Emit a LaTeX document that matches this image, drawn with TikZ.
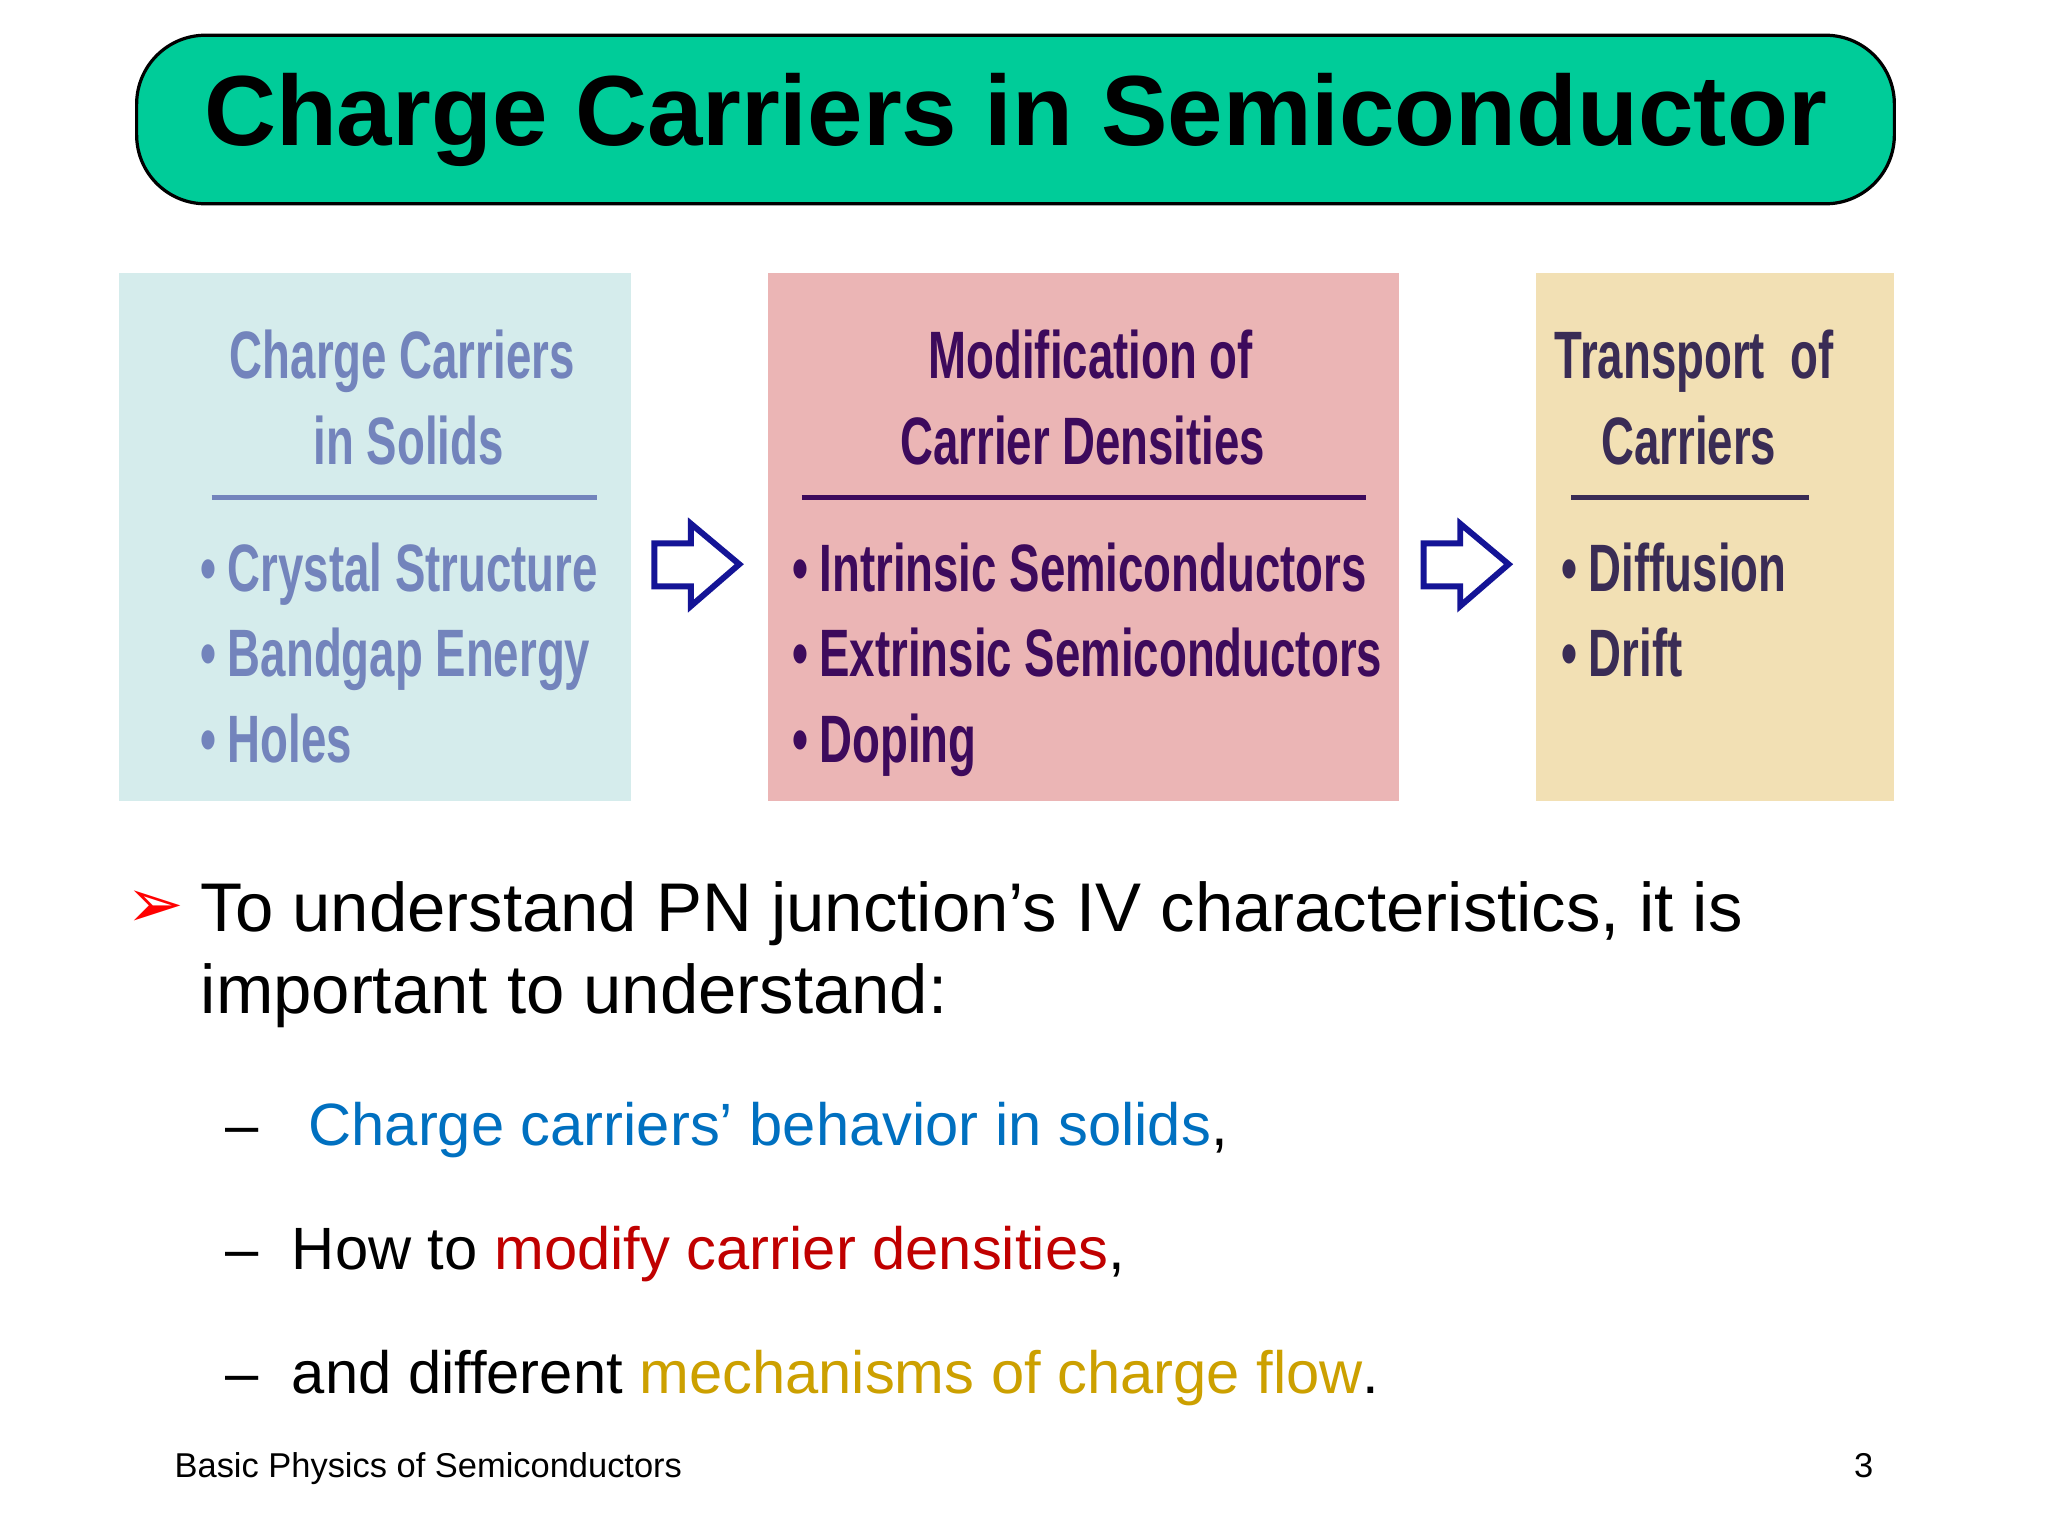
\documentclass[tikz,border=0pt]{standalone}
\usepackage{fontspec}
\setmainfont{Liberation Sans}
\newfontfamily\narrowfont[FakeStretch=0.68]{Liberation Sans Bold}
\newfontfamily\symfont{DejaVu Sans}
\definecolor{titlegreen}{RGB}{0,204,153}
\definecolor{boxa}{RGB}{213,236,236}
\definecolor{boxb}{RGB}{235,181,181}
\definecolor{boxc}{RGB}{242,224,180}
\definecolor{txta}{RGB}{115,132,188}
\definecolor{txtb}{RGB}{61,10,92}
\definecolor{txtc}{RGB}{58,44,85}
\definecolor{arrblue}{RGB}{20,20,150}
\definecolor{myblue}{RGB}{0,112,192}
\definecolor{myred}{RGB}{192,0,0}
\definecolor{mygold}{RGB}{204,160,0}
\tikzset{
  boxtxt/.style={inner sep=0pt,anchor=base,font=\narrowfont\fontsize{14.6}{16}\selectfont},
  bul/.style={inner sep=0pt,anchor=base west,font=\narrowfont\fontsize{14.6}{16}\selectfont},
  body/.style={inner sep=0pt,anchor=base west,font=\fontsize{15}{18}\selectfont},
  sub/.style={inner sep=0pt,anchor=base west,font=\fontsize{13}{16}\selectfont},
  harrow/.style={draw=arrblue,line width=1.3pt,fill=white,line join=miter}
}
\begin{document}
\begin{tikzpicture}[x=0.01cm,y=-0.01cm]
\useasboundingbox (0,0) rectangle (1568,1176);
\fill[white] (0,0) rectangle (1568,1176);
% title
\node[draw=black,line width=0.7pt,fill=titlegreen,rounded corners=15,minimum width=13.45cm,minimum height=1.29cm,inner sep=0pt] (title) at (777.5,91.5) {};
\node[inner sep=0pt,font=\bfseries\fontsize{21.7}{24}\selectfont] (titletext) at (title.center) {Charge Carriers in Semiconductor};
% boxes
\node[fill=boxa,minimum width=3.92cm,minimum height=4.04cm,inner sep=0pt] (b1) at (287,411) {};
\node[fill=boxb,minimum width=4.83cm,minimum height=4.04cm,inner sep=0pt] (b2) at (829.5,411) {};
\node[fill=boxc,minimum width=2.74cm,minimum height=4.04cm,inner sep=0pt] (b3) at (1313,411) {};
% box 1
\node[boxtxt,text=txta] (a1) at (308,290) {Charge Carriers};
\node[boxtxt,text=txta] (a2) at (313,356) {in Solids};
\draw[txta,line width=1.2pt] (162,381) -- (457,381);
\node[bul,text=txta] (a3) at (153,453) {•\,Crystal Structure};
\node[bul,text=txta] (a4) at (153,518) {•\,Bandgap Energy};
\node[bul,text=txta] (a5) at (153,584) {•\,Holes};
% box 2
\node[boxtxt,text=txtb] (c1) at (835,290) {Modification of};
\node[boxtxt,text=txtb] (c2) at (829,356) {Carrier Densities};
\draw[txtb,line width=1.2pt] (614,381) -- (1046,381);
\node[bul,text=txtb] (c3) at (606,453) {•\,Intrinsic Semiconductors};
\node[bul,text=txtb] (c4) at (606,518) {•\,Extrinsic Semiconductors};
\node[bul,text=txtb] (c5) at (606,584) {•\,Doping};
% box 3
\node[boxtxt,text=txtc] (d1) at (1297,290) {Transport\ \ of};
\node[boxtxt,text=txtc] (d2) at (1293,356) {Carriers};
\draw[txtc,line width=1.2pt] (1203,381) -- (1385,381);
\node[bul,text=txtc] (d3) at (1195,453) {•\,Diffusion};
\node[bul,text=txtc] (d4) at (1195,518) {•\,Drift};
% arrows
\draw[harrow] (501,416) -- (529,416) -- (529,401) -- (566,432) -- (529,464) -- (529,449) -- (501,449) -- cycle;
\draw[harrow] (1090,416) -- (1118,416) -- (1118,401) -- (1155,432) -- (1118,464) -- (1118,449) -- (1090,449) -- cycle;
% body
\node[inner sep=0pt,anchor=base west,text=red,font=\symfont\fontsize{15}{18}\selectfont] (arr) at (96,710) {➢};
\node[body] (l1) at (153,713) {To understand PN junction’s IV characteristics, it is};
\node[body] (l2) at (153,776) {important to understand:};
\node[sub] (s1) at (172,877) {–\ \ \ \textcolor{myblue}{Charge carriers’ behavior in solids},};
\node[sub] (s2) at (172,972) {–\ \ How to \textcolor{myred}{modify carrier densities},};
\node[sub] (s3) at (172,1067) {–\ \ and different \textcolor{mygold}{mechanisms of charge flow}.};
% footer
\node[inner sep=0pt,anchor=base west,font=\fontsize{7.5}{9}\selectfont] (foot) at (133,1131) {Basic Physics of Semiconductors};
\node[inner sep=0pt,anchor=base east,font=\fontsize{7.5}{9}\selectfont] (page) at (1435,1131) {3};
\end{tikzpicture}
\end{document}
